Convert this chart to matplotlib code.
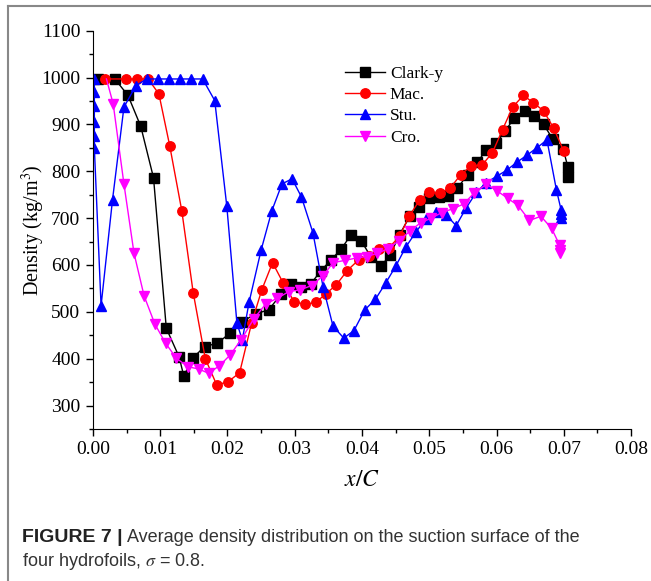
import matplotlib
matplotlib.use("Agg")
import matplotlib.pyplot as plt
from matplotlib.lines import Line2D
from matplotlib.ticker import MultipleLocator

# Clark-y
clark_x = [0.0007, 0.0033, 0.0052, 0.0071, 0.0090, 0.0109, 0.0128, 0.0135, 0.0148, 0.0166,
           0.0185, 0.0204, 0.0222, 0.0242, 0.0261, 0.0280, 0.0295, 0.0310, 0.0324, 0.0339,
           0.0354, 0.0369, 0.0384, 0.0399, 0.0413, 0.0428, 0.0442, 0.0456, 0.0471, 0.0485,
           0.0500, 0.0515, 0.0528, 0.0542, 0.0557, 0.0571, 0.0585, 0.0599, 0.0613, 0.0626,
           0.0642, 0.0656, 0.0670, 0.0684, 0.0699, 0.0706, 0.0706]
clark_y = [996, 996, 962, 896, 786, 465, 404, 363, 401, 426,
           433, 455, 479, 496, 504, 538, 560, 553, 560, 588,
           611, 634, 665, 651, 618, 597, 622, 665, 704, 723,
           742, 745, 748, 764, 793, 819, 845, 860, 885, 914,
           929, 919, 900, 868, 848, 810, 787]

# Mac.
mac_x = [0.0018, 0.0049, 0.0065, 0.0082, 0.0098, 0.0114, 0.0132, 0.0149, 0.0167, 0.0184,
         0.0201, 0.0218, 0.0236, 0.0251, 0.0267, 0.0283, 0.0299, 0.0315, 0.0331, 0.0346,
         0.0362, 0.0378, 0.0395, 0.0410, 0.0425, 0.0440, 0.0456, 0.0470, 0.0486, 0.0500,
         0.0516, 0.0531, 0.0547, 0.0562, 0.0579, 0.0594, 0.0609, 0.0624, 0.0640, 0.0655,
         0.0670, 0.0685, 0.0700]
mac_y = [997, 997, 997, 997, 965, 855, 716, 541, 400, 344,
         351, 370, 477, 547, 605, 561, 522, 516, 520, 538,
         558, 588, 611, 620, 634, 637, 661, 704, 739, 755,
         754, 764, 793, 811, 814, 840, 889, 937, 962, 946,
         929, 892, 843]

# Stu.
stu_x = [0.0002, 0.0002, 0.0002, 0.0002, 0.0002, 0.0002, 0.0012, 0.0029, 0.0046, 0.0064,
         0.0080, 0.0097, 0.0113, 0.0130, 0.0146, 0.0163, 0.0181, 0.0199, 0.0214, 0.0222,
         0.0232, 0.0250, 0.0266, 0.0281, 0.0296, 0.0310, 0.0327, 0.0342, 0.0357, 0.0373,
         0.0388, 0.0404, 0.0420, 0.0435, 0.0450, 0.0465, 0.0480, 0.0495, 0.0510, 0.0525,
         0.0540, 0.0555, 0.0570, 0.0585, 0.0600, 0.0615, 0.0630, 0.0645, 0.0660, 0.0675,
         0.0689, 0.0696, 0.0696, 0.0696]
stu_y = [997, 970, 940, 905, 875, 850, 513, 739, 937, 983,
         997, 997, 997, 997, 997, 997, 951, 725, 476, 440,
         520, 632, 716, 773, 784, 745, 669, 554, 469, 444,
         460, 504, 527, 561, 597, 638, 670, 699, 713, 707,
         684, 722, 755, 776, 789, 802, 819, 834, 850, 867,
         761, 718, 708, 700]

# Cro.
cro_x = [0.0020, 0.0030, 0.0046, 0.0061, 0.0076, 0.0092, 0.0108, 0.0124, 0.0141, 0.0157,
         0.0172, 0.0188, 0.0204, 0.0220, 0.0239, 0.0257, 0.0274, 0.0291, 0.0308, 0.0325,
         0.0342, 0.0357, 0.0375, 0.0392, 0.0407, 0.0423, 0.0439, 0.0455, 0.0471, 0.0487,
         0.0503, 0.0519, 0.0535, 0.0551, 0.0567, 0.0585, 0.0601, 0.0617, 0.0632, 0.0649,
         0.0666, 0.0682, 0.0694, 0.0694, 0.0694]
cro_y = [997, 944, 773, 625, 534, 474, 433, 401, 383, 378,
         369, 385, 408, 440, 485, 517, 529, 543, 547, 556,
         577, 605, 610, 615, 618, 625, 635, 652, 672, 690,
         700, 712, 720, 730, 754, 772, 758, 742, 727, 695,
         704, 678, 642, 633, 625]

serif = "Liberation Serif"
plt.rcParams["font.family"] = serif
plt.rcParams["mathtext.fontset"] = "stix"

fig = plt.figure(figsize=(6.51, 5.81), dpi=100)
ax = fig.add_axes([93/651, 1-429/581, (631-93)/651, (429-30.7)/581])

ms = 6.5
lw = 1.0
ax.plot(clark_x, clark_y, color="black", marker="s", ms=ms, lw=lw, label="Clark-y")
ax.plot(mac_x, mac_y, color="red", marker="o", ms=ms+0.3, lw=lw, label="Mac.")
ax.plot(stu_x, stu_y, color="blue", marker="^", ms=ms+0.7, lw=lw, label="Stu.")
# first Cro. point sits under the other curves, no marker there
ax.plot(cro_x, cro_y, color="magenta", marker="v", ms=ms+0.7, lw=lw, label="Cro.",
        markevery=list(range(1, len(cro_x))))

ax.set_xlim(0, 0.08)
ax.set_ylim(250, 1100)
ax.xaxis.set_major_locator(MultipleLocator(0.01))
ax.xaxis.set_minor_locator(MultipleLocator(0.005))
ax.yaxis.set_minor_locator(MultipleLocator(50))
ax.set_yticks(range(300, 1101, 100))
ax.xaxis.set_major_formatter(plt.FuncFormatter(lambda v, p: f"{v:.2f}"))
for s in ["top", "right"]:
    ax.spines[s].set_visible(False)
ax.tick_params(which="major", direction="out", length=5, width=1, labelsize=14, pad=4)
ax.tick_params(which="minor", direction="out", length=3, width=1)

ax.set_xlabel("$x/C$", fontsize=17, labelpad=8)
ax.set_ylabel("Density (kg/m$^3$)", fontsize=14.5)
ax.yaxis.set_label_coords(-0.086, 0.5)

ax.legend(loc="upper left", bbox_to_anchor=(0.455, 0.93), frameon=False, fontsize=12.5,
          handlelength=2.3, handletextpad=0.3, labelspacing=0.3, borderaxespad=0)

# outer frame of the panel
fig.add_artist(Line2D([8/651, 1], [1-6/581, 1-6/581], color="#888888", lw=1.5))
fig.add_artist(Line2D([8/651, 8/651], [0, 1-6/581], color="#888888", lw=1.5))

# caption
cap = ["Liberation Sans Narrow", "Liberation Sans", "DejaVu Sans"]
t1 = fig.text(22/651, 1-538/581, "FIGURE 7 |", fontsize=14, fontweight="bold",
              family=cap, color="#222222", va="center")
fig.canvas.draw()
bb = t1.get_window_extent()
fig.text((bb.x1 + 4)/651, 1-538/581, "Average density distribution on the suction surface of the",
         fontsize=13, family=cap, color="#333333", va="center")
fig.text(22/651, 1-562/581, "four hydrofoils, $\\sigma$ = 0.8.", fontsize=13, family=cap,
         color="#333333", va="center")

fig.savefig("out.png", dpi=100)
